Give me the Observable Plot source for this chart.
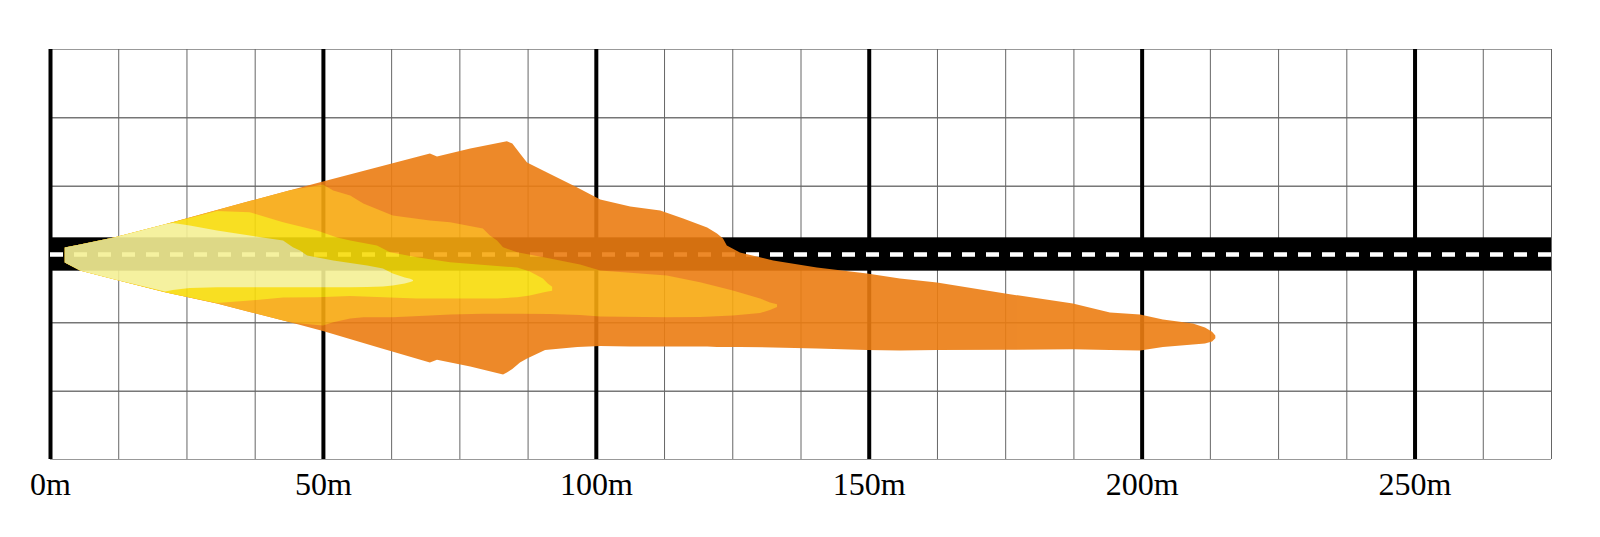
<!DOCTYPE html>
<html>
<head>
<meta charset="utf-8">
<script src="https://cdn.jsdelivr.net/npm/d3@7"></script>
<script src="https://cdn.jsdelivr.net/npm/@observablehq/plot@0.6"></script>
<style>
  html, body { margin: 0; padding: 0; background: #fff; }
  #chart svg { display: block; }
  #chart g[aria-label="area"] { opacity: 0.9; }
</style>
</head>
<body>
<div id="chart"></div>
<script>
// ---- axis ticks & grid (metres) ----
const distanceTicks = [0, 50, 100, 150, 200, 250];
const minorDistances = [12.5, 25, 37.5, 62.5, 75, 87.5, 112.5, 125, 137.5, 162.5, 175, 187.5, 212.5, 225, 237.5, 262.5, 275];
const lateralGrid = [-37.5, -25, -12.5, 0, 12.5, 25, 37.5];
const roadLength = 275;
const roadHalfWidth = 3.05;

// ---- beam isolux layers: distance (m), left edge (m), right edge (m) ----
const layerNames = ["outer", "mid", "yellow", "pale"];

const outerX      = [2.7, 5.5, 11.9, 21.1, 30.6, 36.6, 44.0, 50.0, 60.5, 69.6, 70.9, 77.0, 83.0, 83.7, 84.7, 86.1, 87.4, 90.7, 96.6, 100.8, 106.3, 111.8, 116.0, 120.4, 122.2, 123.3, 124.0, 126.4, 132.5, 140.5, 149.7, 155.7, 162.5, 175.0, 187.4, 194.2, 199.7, 203.9, 209.4, 211.6, 212.9, 213.5];
const outerTop    = [1.19, 1.76, 3.07, 5.43, 8.03, 9.69, 11.65, 13.26, 15.99, 18.38, 17.83, 19.3, 20.49, 20.63, 20.21, 18.38, 16.74, 15.09, 12.16, 9.97, 8.69, 7.96, 6.49, 4.85, 3.75, 2.84, 1.55, 0.27, -1.19, -2.47, -3.57, -4.48, -5.21, -7.23, -9.05, -10.7, -11.07, -11.98, -12.71, -13.44, -14.2, -14.9];
const outerBottom = [-1.55, -3.02, -4.65, -6.99, -9.05, -10.61, -12.47, -14.08, -17.21, -19.85, -19.35, -20.58, -22.04, -21.68, -21.03, -19.85, -19.11, -17.56, -17.01, -16.83, -16.92, -16.92, -16.92, -16.92, -17.01, -17.01, -17.01, -17.01, -17.1, -17.29, -17.56, -17.65, -17.56, -17.52, -17.41, -17.56, -17.65, -17.01, -16.55, -16.37, -16.0, -15.4];

const midX      = [2.7, 5.5, 11.9, 21.1, 30.6, 36.6, 44.0, 45.8, 50.0, 51.9, 55.0, 57.4, 62.8, 69.6, 73.3, 79.3, 80.6, 81.9, 83.0, 85.6, 91.6, 97.1, 100.8, 113.0, 119.1, 125.1, 130.1, 131.9, 133.2];
const midTop    = [1.19, 1.76, 3.07, 5.43, 8.03, 9.69, 11.65, 11.98, 12.71, 11.61, 10.7, 9.24, 7.04, 6.13, 5.82, 4.66, 3.38, 2.47, 1.24, 0.33, -0.82, -1.92, -3.02, -3.93, -5.16, -6.68, -8.14, -8.87, -9.2];
const midBottom = [-1.55, -3.02, -4.65, -6.99, -9.05, -10.61, -12.47, -12.71, -13.08, -12.47, -11.8, -11.56, -11.56, -11.25, -11.07, -10.94, -10.94, -10.94, -10.94, -10.94, -10.97, -11.16, -11.43, -11.56, -11.52, -11.25, -10.79, -10.24, -9.7];

const yellowX      = [2.7, 5.5, 11.9, 21.1, 22.5, 30.6, 36.6, 42.7, 48.9, 52.6, 55.0, 59.9, 62.3, 67.2, 73.3, 81.9, 85.6, 87.9, 90.3, 91.2, 92.0];
const yellowTop    = [1.19, 1.76, 3.07, 5.43, 5.82, 7.87, 7.65, 5.82, 4.3, 3.02, 2.47, 1.55, 0.33, -0.59, -1.5, -2.2, -2.47, -3.2, -4.48, -5.4, -6.0];
const yellowBottom = [-1.55, -3.02, -4.65, -6.99, -7.3, -8.96, -8.51, -7.96, -7.9, -7.77, -7.68, -7.86, -7.96, -8.14, -8.14, -8.14, -7.9, -7.59, -7.04, -6.86, -6.7];

const paleX      = [2.7, 5.5, 11.9, 21.1, 22.5, 24.4, 25.6, 30.6, 36.6, 42.7, 44.5, 45.8, 47.1, 51.9, 55.0, 58.1, 61.0, 62.8, 65.0, 66.0, 66.5];
const paleTop    = [1.19, 1.76, 3.07, 5.43, 5.67, 5.4, 5.21, 4.3, 3.38, 2.47, 1.24, 0.64, -0.27, -1.19, -1.65, -2.1, -2.65, -3.57, -4.3, -4.54, -4.75];
const paleBottom = [-1.55, -3.02, -4.65, -6.86, -6.58, -6.37, -6.22, -6.07, -6.07, -6.07, -6.07, -6.07, -6.07, -6.07, -6.07, -6.04, -5.94, -5.76, -5.4, -5.12, -4.95];

const beamColors = ["#ec7d12", "#f8a910", "#f8dc0b", "#f5f095"];

function layerRows(name, xs, tops, bottoms) {
  return xs.map((x, i) => ({layer: name, x, top: tops[i], bottom: bottoms[i]}));
}
const beam = [
  ...layerRows("outer", outerX, outerTop, outerBottom),
  ...layerRows("mid", midX, midTop, midBottom),
  ...layerRows("yellow", yellowX, yellowTop, yellowBottom),
  ...layerRows("pale", paleX, paleTop, paleBottom)
];

const chart = Plot.plot({
  width: 1600,
  height: 537,
  marginLeft: 50,
  marginRight: 49,
  marginTop: 49,
  marginBottom: 78,
  x: {domain: [0, 275], label: null},
  y: {domain: [-37.5, 37.5], axis: null},
  color: {type: "ordinal", domain: layerNames, range: beamColors},
  marks: [
    Plot.ruleY(lateralGrid, {stroke: "#333", strokeWidth: 1}),
    Plot.ruleY([-37.5, 37.5], {stroke: "#999", strokeWidth: 1.2}),
    Plot.ruleX(minorDistances, {stroke: "#666", strokeWidth: 1}),
    Plot.ruleX(distanceTicks, {stroke: "#000", strokeWidth: 4}),
    Plot.rectY([roadHalfWidth], {x1: 0, x2: roadLength, y1: d => -d, y2: d => d, fill: "#000"}),
    Plot.ruleY([0], {x1: 0, x2: roadLength, stroke: "#fff", strokeWidth: 4.5, strokeDasharray: "13,11"}),
    Plot.areaY(beam, {x: "x", y1: "bottom", y2: "top", z: "layer", fill: "layer", curve: "linear"}),
    Plot.axisX(distanceTicks, {tickFormat: d => `${d}m`, tickSize: 0, tickPadding: 13, fontSize: 32, fontFamily: "Liberation Serif", fill: "#000", label: null})
  ]
});
document.getElementById("chart").appendChild(chart);
</script>
</body>
</html>
